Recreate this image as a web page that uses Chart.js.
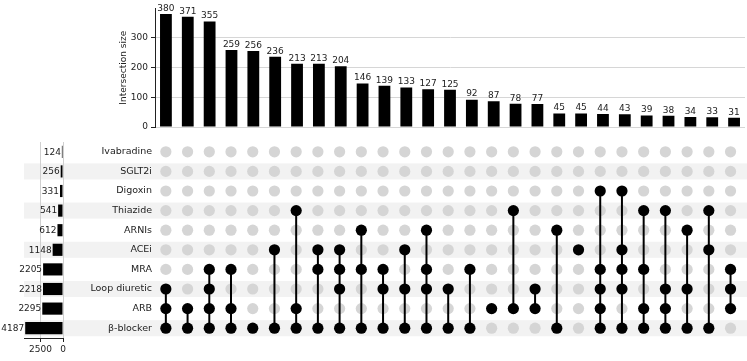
<!DOCTYPE html>
<html><head><meta charset="utf-8">
<script src="https://cdn.jsdelivr.net/npm/chart.js@4"></script>
<style>
html,body{margin:0;padding:0;background:#fff;width:747px;height:361px;overflow:hidden}
canvas{position:absolute;left:0;top:0}
</style></head>
<body>
<canvas id="matrix" width="747" height="361"></canvas>
<canvas id="sizes" width="747" height="361"></canvas>
<canvas id="top" width="747" height="361"></canvas>
<script>
// ---- data ----
const setNames = ['Ivabradine','SGLT2i','Digoxin','Thiazide','ARNIs','ACEi','MRA','Loop diuretic','ARB','β-blocker'];
const setSizes = [124,256,331,541,612,1148,2205,2218,2295,4187];
const intersectionSizes = [380,371,355,259,256,236,213,213,204,146,139,133,127,125,92,87,78,77,45,45,44,43,39,38,34,33,31];
const intersectionMembers = [
  ['Loop diuretic','ARB','β-blocker'],
  ['ARB','β-blocker'],
  ['MRA','Loop diuretic','ARB','β-blocker'],
  ['MRA','ARB','β-blocker'],
  ['β-blocker'],
  ['ACEi','β-blocker'],
  ['Thiazide','ARB','β-blocker'],
  ['ACEi','MRA','β-blocker'],
  ['ACEi','MRA','Loop diuretic','β-blocker'],
  ['ARNIs','MRA','β-blocker'],
  ['MRA','Loop diuretic','β-blocker'],
  ['ACEi','Loop diuretic','β-blocker'],
  ['ARNIs','MRA','Loop diuretic','β-blocker'],
  ['Loop diuretic','β-blocker'],
  ['MRA','β-blocker'],
  ['ARB'],
  ['Thiazide','ARB'],
  ['Loop diuretic','ARB'],
  ['ARNIs','β-blocker'],
  ['ACEi'],
  ['Digoxin','MRA','Loop diuretic','ARB','β-blocker'],
  ['Digoxin','ACEi','MRA','Loop diuretic','β-blocker'],
  ['Thiazide','MRA','ARB','β-blocker'],
  ['Thiazide','Loop diuretic','ARB','β-blocker'],
  ['ARNIs','Loop diuretic','β-blocker'],
  ['Thiazide','ACEi','β-blocker'],
  ['MRA','Loop diuretic','ARB']
];
const countTicks = [0,100,200,300];
const sizeTicks = [0,2500];

// ---- styling ----
const FONT = 'DejaVu Sans';
const TXT = '#222';
const FS = 9;
const colKeys = intersectionSizes.map((_, i) => 'c' + (i + 1));

const valueLabels = {
  id: 'valueLabels',
  afterDatasetsDraw(chart, args, opts) {
    const ctx = chart.ctx;
    const meta = chart.getDatasetMeta(0);
    const vals = chart.data.datasets[0].data;
    ctx.save();
    ctx.font = FS + 'px "' + FONT + '"';
    ctx.fillStyle = TXT;
    meta.data.forEach((el, i) => {
      if (opts.horizontal) {
        ctx.textAlign = 'right'; ctx.textBaseline = 'middle';
        ctx.fillText(String(vals[i]), el.x - 1, el.y + 0.5);
      } else {
        ctx.textAlign = 'center'; ctx.textBaseline = 'bottom';
        ctx.fillText(String(vals[i]), el.x, el.y - 1);
      }
    });
    ctx.restore();
  }
};

const rowShading = {
  id: 'rowShading',
  beforeDraw(chart, args, opts) {
    const ctx = chart.ctx, y = chart.scales.y;
    const step = Math.abs(y.getPixelForValue(1) - y.getPixelForValue(0));
    const h = step * 0.82;
    ctx.save();
    ctx.fillStyle = '#f2f2f2';
    setNames.forEach((n, i) => {
      if (i % 2 === 1) {
        const py = y.getPixelForValue(i);
        ctx.fillRect(opts.left, py - h / 2, chart.width - opts.left, h);
      }
    });
    ctx.restore();
  }
};

// ---- top: intersection size bars ----
new Chart(document.getElementById('top'), {
  type: 'bar',
  data: {
    labels: colKeys,
    datasets: [{ data: intersectionSizes, backgroundColor: '#000', barPercentage: 0.54, categoryPercentage: 1 }]
  },
  options: {
    responsive: false, animation: false, events: [],
    layout: { padding: { left: 118, right: 2, top: 5, bottom: 234 } },
    plugins: { legend: { display: false }, tooltip: { enabled: false }, valueLabels: { horizontal: false } },
    scales: {
      x: { display: false },
      y: {
        min: 0, max: 399,
        afterBuildTicks: s => { s.ticks = countTicks.map(v => ({ value: v })); },
        afterFit: s => { s.width = 155 - 118; },
        ticks: { font: { family: FONT, size: FS }, color: TXT, padding: 3 },
        grid: { color: '#d6d6d6', tickColor: TXT, tickLength: 4, lineWidth: 1 },
        border: { color: TXT, width: 1 },
        title: { display: true, text: 'Intersection size', font: { family: FONT, size: FS }, color: TXT, padding: 0 }
      }
    }
  },
  plugins: [valueLabels]
});

// ---- left: set size bars ----
new Chart(document.getElementById('sizes'), {
  type: 'bar',
  data: {
    labels: setNames,
    datasets: [{ data: setSizes, backgroundColor: '#000', barPercentage: 0.62, categoryPercentage: 1 }]
  },
  options: {
    indexAxis: 'y',
    responsive: false, animation: false, events: [],
    layout: { padding: { left: 24, right: 684, top: 142, bottom: 0 } },
    plugins: { legend: { display: false }, tooltip: { enabled: false }, valueLabels: { horizontal: true } },
    scales: {
      y: { display: false },
      x: {
        reverse: true, min: 0, max: 4320,
        afterBuildTicks: s => { s.ticks = sizeTicks.map(v => ({ value: v })); },
        afterFit: s => { s.height = 23; },
        ticks: { font: { family: FONT, size: FS }, color: TXT, padding: 2, maxRotation: 0, callback: v => String(v) },
        grid: { color: '#d0d0d0', tickColor: TXT, tickLength: 4 },
        border: { color: TXT, width: 1 }
      }
    }
  },
  plugins: [valueLabels]
});

// ---- matrix ----
const greyDots = [], blackDots = [], lineSets = [];
intersectionMembers.forEach((mem, c) => {
  setNames.forEach(n => {
    (mem.includes(n) ? blackDots : greyDots).push({ x: colKeys[c], y: n });
  });
  if (mem.length > 1) {
    const idx = mem.map(n => setNames.indexOf(n));
    lineSets.push({
      data: [{ x: colKeys[c], y: setNames[Math.min(...idx)] }, { x: colKeys[c], y: setNames[Math.max(...idx)] }],
      showLine: true, borderColor: '#000', borderWidth: 2, pointRadius: 0, order: 1
    });
  }
});

new Chart(document.getElementById('matrix'), {
  type: 'scatter',
  data: {
    datasets: [
      { data: blackDots, pointRadius: 5.6, pointBackgroundColor: '#000', pointBorderWidth: 0, order: 0 },
      ...lineSets,
      { data: greyDots, pointRadius: 5.6, pointBackgroundColor: '#d5d5d5', pointBorderWidth: 0, order: 2 }
    ]
  },
  options: {
    responsive: false, animation: false, events: [],
    layout: { padding: { left: 0, right: 2, top: 142, bottom: 23 } },
    plugins: { legend: { display: false }, tooltip: { enabled: false }, rowShading: { left: 24 } },
    scales: {
      x: { type: 'category', labels: colKeys, offset: true, display: false },
      y: {
        type: 'category', labels: setNames, offset: true,
        afterFit: s => { s.width = 155; },
        ticks: { font: { family: FONT, size: FS + 0.5 }, color: TXT, padding: 3 },
        grid: { display: false, drawTicks: false },
        border: { display: false }
      }
    }
  },
  plugins: [rowShading]
});
</script>
</body></html>
